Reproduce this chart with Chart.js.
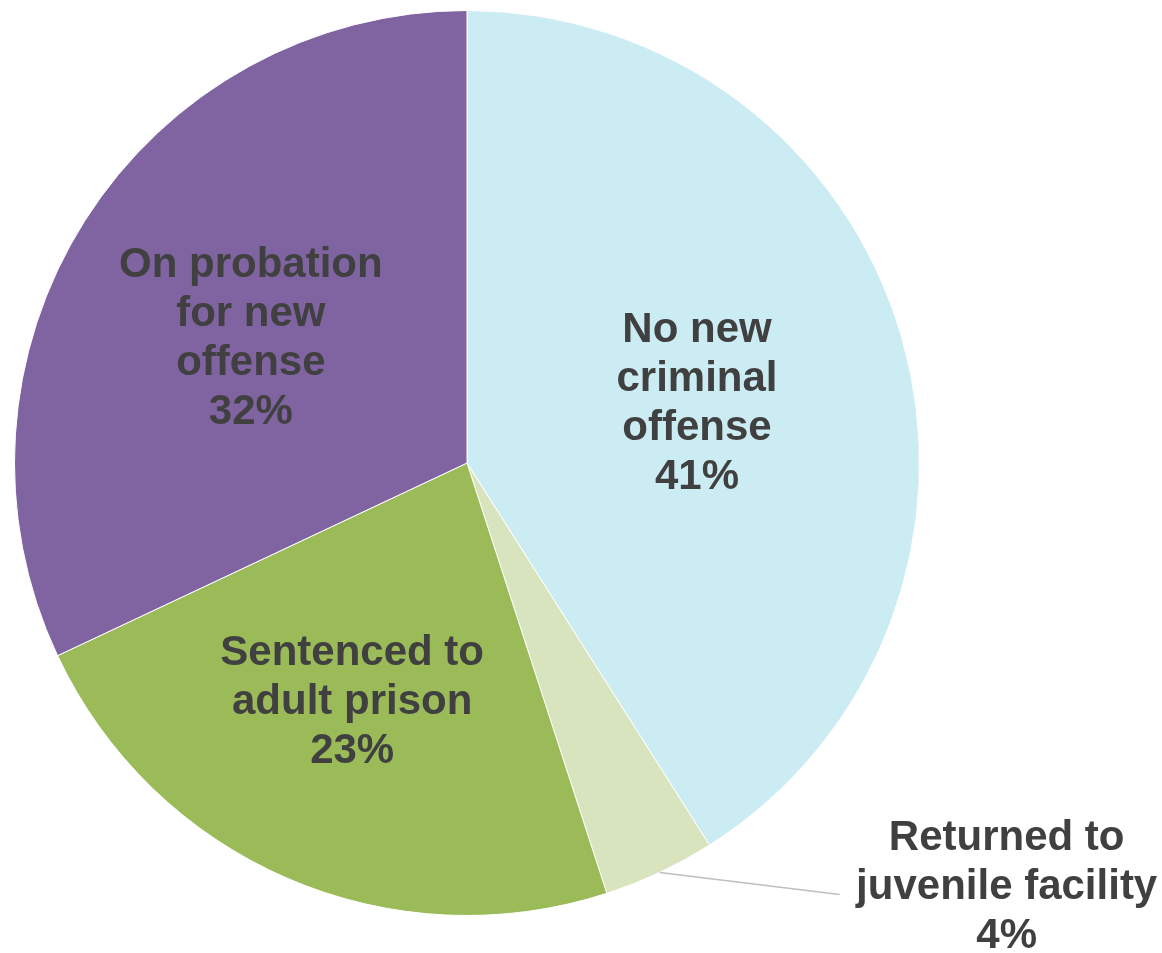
<!DOCTYPE html>
<html>
<head>
<meta charset="utf-8">
<script src="https://cdn.jsdelivr.net/npm/chart.js@4.4.1/dist/chart.umd.min.js"></script>
<style>
    html, body { margin: 0; padding: 0; background: #fff; }
    #wrap { width: 1162px; height: 953px; }
</style>
</head>
<body>
<div id="wrap"><canvas id="outcomeChart" width="1162" height="953"></canvas></div>
<script>
// Outcomes after release
const categories = [
    ['No new', 'criminal', 'offense'],
    ['Returned to', 'juvenile facility'],
    ['Sentenced to', 'adult prison'],
    ['On probation', 'for new', 'offense']
];
const shares = [41, 4, 23, 32];
const sliceColors = ['#CCECF3', '#D7E4BD', '#9BBB59', '#8064A2'];

// Draws the multi-line category + percent labels on (or next to) each slice
const sliceLabels = {
    id: 'sliceLabels',
    afterDatasetsDraw(chart, args, opts) {
        const ctx = chart.ctx;
        const meta = chart.getDatasetMeta(0);
        ctx.save();
        ctx.font = opts.font;
        ctx.fillStyle = opts.color;
        ctx.textAlign = 'center';
        ctx.textBaseline = 'middle';

        meta.data.forEach((arc, i) => {
            const lines = chart.data.labels[i].concat(shares[i] + '%');
            const mid = (arc.startAngle + arc.endAngle) / 2;
            let cx, cy;
            const callout = opts.callouts[i];
            if (callout) {
                // outside label with a leader line from the slice edge
                const ex = arc.x + Math.cos(mid) * arc.outerRadius;
                const ey = arc.y + Math.sin(mid) * arc.outerRadius;
                const lx = ex + callout.line[0];
                const ly = ey + callout.line[1];
                ctx.beginPath();
                ctx.strokeStyle = '#BFBFBF';
                ctx.lineWidth = 1.5;
                ctx.moveTo(ex, ey);
                ctx.lineTo(lx, ly);
                ctx.stroke();
                cx = lx + callout.text[0];
                cy = ly + callout.text[1];
            } else {
                const r = arc.outerRadius * opts.radius;
                const nudge = opts.nudge[i] || [0, 0];
                cx = arc.x + Math.cos(mid) * r + nudge[0];
                cy = arc.y + Math.sin(mid) * r + nudge[1];
            }
            const top = cy - (lines.length - 1) * opts.lineHeight / 2;
            lines.forEach((t, k) => ctx.fillText(t, cx, top + k * opts.lineHeight));
        });
        ctx.restore();
    }
};

new Chart(document.getElementById('outcomeChart').getContext('2d'), {
    type: 'pie',
    data: {
        labels: categories,
        datasets: [{
            data: shares,
            backgroundColor: sliceColors,
            borderColor: '#FFFFFF',
            borderWidth: 1
        }]
    },
    options: {
        responsive: false,
        animation: false,
        layout: {
            padding: { left: 14, top: 10, right: 242, bottom: 37 }
        },
        plugins: {
            legend: { display: false },
            tooltip: { enabled: false },
            sliceLabels: {
                font: 'bold 42px "Liberation Sans", Arial, sans-serif',
                color: '#404040',
                lineHeight: 49,
                radius: 0.55,
                nudge: { 0: [-9, 10], 2: [-16, 11], 3: [-6, 9] },
                callouts: { 1: { line: [180, 22], text: [167, -7] } }
            }
        }
    },
    plugins: [sliceLabels]
});
</script>
</body>
</html>
